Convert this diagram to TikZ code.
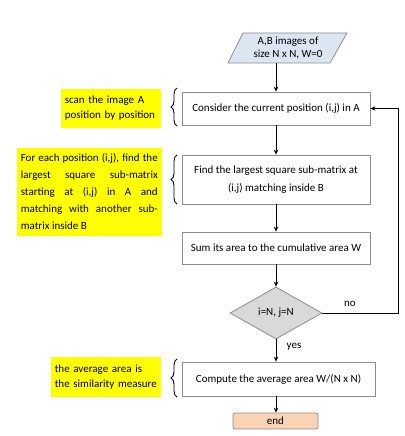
\documentclass[tikz,border=0pt]{standalone}
\usepackage{fontspec}
\setmainfont{Carlito}
\usetikzlibrary{shapes.geometric,decorations.pathreplacing,arrows.meta}
\definecolor{boxline}{HTML}{8C8C8C}
\definecolor{notey}{HTML}{FFFF00}
\definecolor{inblue}{HTML}{DCE6F2}
\definecolor{diagray}{HTML}{D9D9D9}
\definecolor{endc}{HTML}{FAD3B5}
\hyphenpenalty=10000
\begin{document}
\begin{tikzpicture}[x=1pt,y=-1pt,
  font=\fontsize{11}{15}\selectfont,
  box/.style={draw=boxline, line width=0.8pt, fill=white, minimum width=188pt, inner sep=2pt, align=center},
  note/.style={fill=notey, inner xsep=4pt, inner ysep=3pt, anchor=east},
  arr/.style={-{Stealth[length=5pt,width=4.5pt]}, line width=1pt},
  brc/.style={decorate, decoration={brace, amplitude=6pt}, line width=0.9pt}]
\useasboundingbox (0,0) rectangle (404,436);
% input parallelogram
\filldraw[draw=boxline, fill=inblue, line width=0.8pt] (228,63) -- (243,33) -- (347,33) -- (330,63) -- cycle;
\node[align=center, minimum height=30pt, inner sep=0pt, font=\fontsize{11}{13.5}\selectfont] (in) at (288,48) {A,B images of\\size N x N, W=0};
% boxes
\node[box, minimum height=33pt] (b1) at (276,108.5) {Consider the current position (i,j) in A};
\node[box, minimum height=49pt, font=\fontsize{11}{18}\selectfont] (b2) at (276,179.5) {Find the largest square sub-matrix at\\(i,j) matching inside B};
\node[box, minimum height=32pt] (b3) at (276,248) {Sum its area to the cumulative area W};
\node[draw=boxline, fill=diagray, line width=0.8pt, diamond, aspect=1.77, minimum width=92pt, minimum height=52pt, inner sep=0pt] (d) at (276,313) {i=N, j=N};
\node[box, minimum width=193pt, minimum height=34pt] (b4) at (278.5,379) {Compute the average area W/(N x N)};
\node[draw=boxline, fill=endc, line width=0.8pt, rounded corners=2pt, minimum width=85pt, minimum height=16pt, inner sep=0pt] (e) at (275.5,421) {end};
% arrows
\draw[arr] (b1.north |- in.south) -- (b1.north);
\draw[arr] (b1) -- (b2);
\draw[arr] (b2) -- (b3);
\draw[arr] (b3) -- (d);
\draw[arr] (d.south) -- (d.south |- b4.north);
\draw[arr] (d.south |- b4.south) -- (d.south |- e.north);
\coordinate (lp1) at (398,313);
\coordinate (lp2) at (398,108.5);
\draw[arr] (d.east) -- (lp1) -- (lp2) -- (b1.east);
\node (no) at (350,304) {no};
\node (yes) at (294,347) {yes};
% notes
\node[note, text width=92pt, align=left, minimum height=39pt] (n1) at (161,108.5) {scan the image A\\position by position};
\node[note, text width=137pt, align=justify, minimum height=88pt, font=\fontsize{11}{17}\selectfont] (n2) at (162,192) {For each position (i,j), find the\linebreak largest square sub-matrix\linebreak starting at (i,j) in A and\linebreak matching with another sub-\linebreak matrix inside B};
\node[note, text width=102pt, align=left, minimum height=40pt] (n3) at (161,377) {the average area is\\the similarity measure};
% braces
\draw[brc] (177,126) -- (177,88);
\draw[brc] (177,204) -- (177,155);
\draw[brc] (177,397) -- (177,359);
\end{tikzpicture}
\end{document}
